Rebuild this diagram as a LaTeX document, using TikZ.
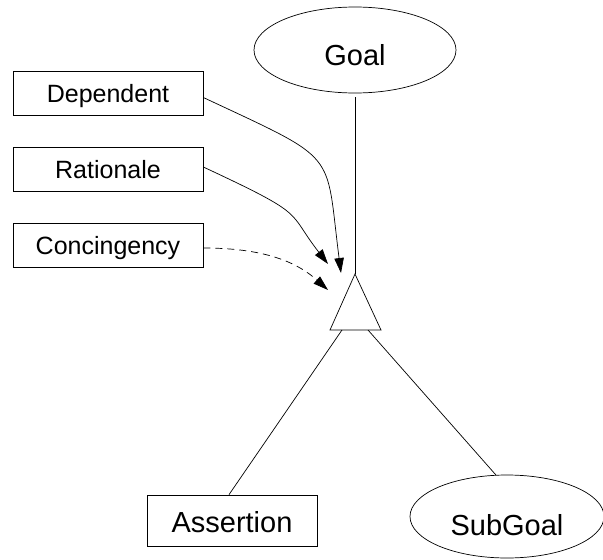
\documentclass[tikz,border=0pt]{standalone}
\usepackage{fontspec}
\setmainfont{Liberation Sans}
\usetikzlibrary{shapes.geometric,arrows.meta}
\begin{document}
\begin{tikzpicture}[x=1pt,y=-1pt,
  every node/.style={inner sep=0pt},
  conn/.style={line width=0.7pt},
  flow/.style={conn,-{Triangle[length=15pt,width=9.5pt]}},
  sidebox/.style={draw,line width=0.7pt,minimum width=190pt,minimum height=44pt,
    font=\fontsize{25}{29}\selectfont,text height=18pt,text depth=0pt},
  bigbox/.style={draw,line width=0.7pt,font=\fontsize{29}{34}\selectfont,text depth=0pt},
  goalshape/.style={draw,ellipse,line width=0.7pt,font=\fontsize{29}{34}\selectfont,text depth=0pt},
]
\useasboundingbox (0,0) rectangle (603,560);

% goal and its refinement
\node[goalshape,minimum width=202pt,minimum height=86pt,text height=31pt] (goal) at (355,50) {Goal};
\node[bigbox,minimum width=170pt,minimum height=51pt,text height=24pt] (assert) at (232,520.5) {Assertion\hspace{10pt}};
\node[goalshape,minimum width=194pt,minimum height=83pt,text height=37pt] (sub) at (507,516.5) {SubGoal};

% annotation boxes on the left
\node[sidebox] (dep) at (108,93) {Dependent};
\node[sidebox] (rat) at (108,169) {Rationale\hspace{6pt}};
\node[sidebox] (con) at (108,245) {Concingency\hspace{17pt}};

% AND-refinement triangle
\coordinate (apex) at (355,274);
\coordinate (baseL) at (330,330);
\coordinate (baseR) at (381,330);
\coordinate (andL) at (342,330);
\coordinate (andR) at (368,330);
\draw[conn,line join=miter] (apex) -- (baseL) -- (baseR) -- cycle;

% links of the refinement
\draw[conn] ([yshift=-4pt]goal.south) -- (apex);
\draw[conn] (andL) -- ([xshift=-3pt]assert.north);
\draw[conn] (andR) -- (sub.105);

% arrows into the triangle
\coordinate (depTip) at (341,273);
\coordinate (ratTip) at (328,264);
\coordinate (conTip) at (328,290);
\draw[flow] ([yshift=-4.5pt]dep.east) .. controls (341,162) and (325,149) .. (depTip);
\draw[flow] ([yshift=2pt]rat.east) .. controls (309.5,216.5) and (286,210) .. (ratTip);
\draw[flow,dash pattern=on 7pt off 5pt] ([yshift=-3pt]con.east) .. controls (270,248) and (300,265) .. (conTip);
\end{tikzpicture}
\end{document}
